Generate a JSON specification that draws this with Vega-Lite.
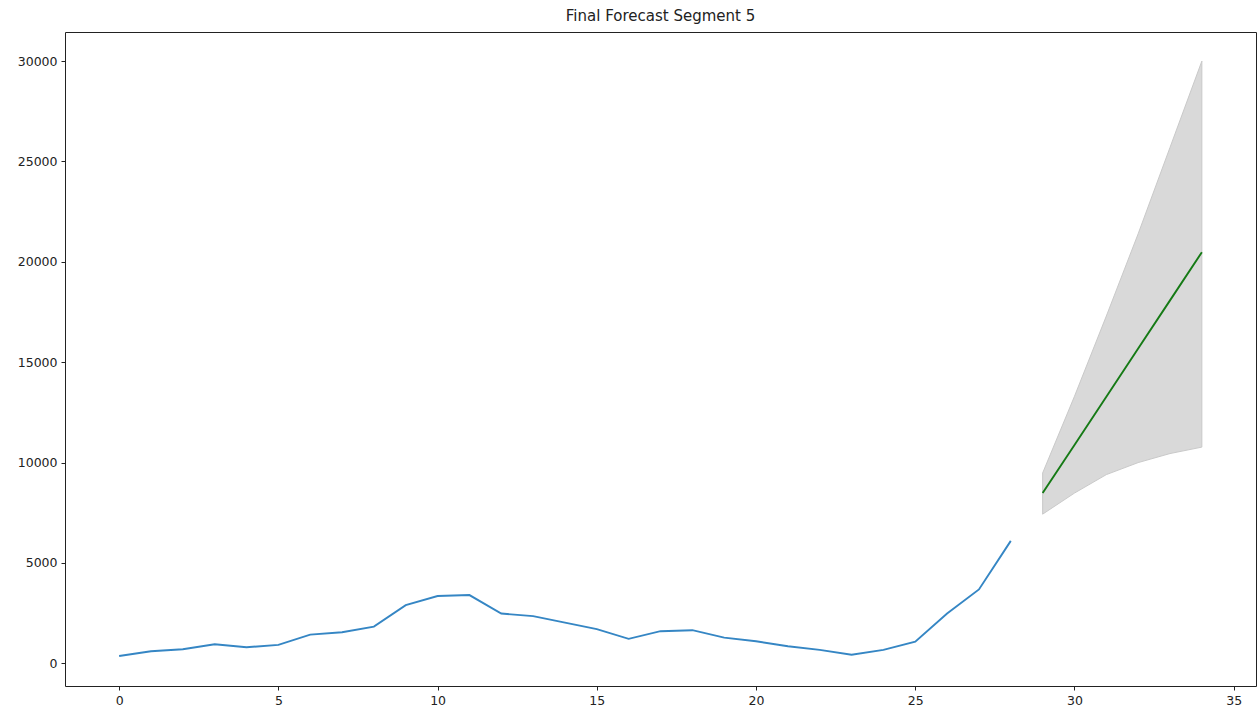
{
  "$schema": "https://vega.github.io/schema/vega-lite/v6.json",
  "width": 1191,
  "height": 654,
  "autosize": {"type": "none"},
  "padding": {"left": 65, "top": 32, "right": 1, "bottom": 25},
  "background": "white",
  "title": {
    "text": "Final Forecast Segment 5",
    "font": "DejaVu Sans",
    "fontSize": 15,
    "fontWeight": "normal",
    "color": "#222222",
    "anchor": "middle",
    "offset": 8
  },
  "config": {
    "view": {"stroke": "#222222", "strokeWidth": 1},
    "axis": {
      "grid": false,
      "domain": false,
      "title": null,
      "labelFont": "DejaVu Sans",
      "labelFontSize": 12.5,
      "labelColor": "#222222",
      "tickColor": "#222222",
      "tickSize": 4,
      "tickWidth": 1,
      "labelPadding": 4,
      "labelFlush": false,
      "labelOverlap": false
    }
  },
  "datasets": {
    "history": [
      {"t": 0, "value": 365},
      {"t": 1, "value": 600},
      {"t": 2, "value": 700},
      {"t": 3, "value": 950},
      {"t": 4, "value": 800},
      {"t": 5, "value": 920},
      {"t": 6, "value": 1430},
      {"t": 7, "value": 1550},
      {"t": 8, "value": 1830},
      {"t": 9, "value": 2900},
      {"t": 10, "value": 3350},
      {"t": 11, "value": 3400},
      {"t": 12, "value": 2480},
      {"t": 13, "value": 2350},
      {"t": 14, "value": 2030},
      {"t": 15, "value": 1700},
      {"t": 16, "value": 1220},
      {"t": 17, "value": 1600},
      {"t": 18, "value": 1650},
      {"t": 19, "value": 1280},
      {"t": 20, "value": 1100},
      {"t": 21, "value": 850},
      {"t": 22, "value": 670},
      {"t": 23, "value": 430},
      {"t": 24, "value": 670},
      {"t": 25, "value": 1080},
      {"t": 26, "value": 2480},
      {"t": 27, "value": 3680},
      {"t": 28, "value": 6100}
    ],
    "forecast": [
      {"t": 29, "mean": 8480, "lower": 7430, "upper": 9480},
      {"t": 30, "mean": 10880, "lower": 8480, "upper": 13300},
      {"t": 31, "mean": 13280, "lower": 9400, "upper": 17300},
      {"t": 32, "mean": 15680, "lower": 10000, "upper": 21400},
      {"t": 33, "mean": 18080, "lower": 10450, "upper": 25700},
      {"t": 34, "mean": 20480, "lower": 10770, "upper": 30000}
    ]
  },
  "layer": [
    {
      "data": {"name": "forecast"},
      "mark": {"type": "area", "color": "#d9d9d9", "stroke": "#c9c9c9", "strokeWidth": 1},
      "encoding": {
        "x": {"field": "t", "type": "quantitative", "scale": {"domain": [-1.7, 35.7], "nice": false, "zero": false},
              "axis": {"values": [0, 5, 10, 15, 20, 25, 30, 35], "format": "d"}},
        "y": {"field": "upper", "type": "quantitative", "scale": {"domain": [-1130, 31450], "nice": false, "zero": false},
              "axis": {"values": [0, 5000, 10000, 15000, 20000, 25000, 30000], "format": "d"}},
        "y2": {"field": "lower"}
      }
    },
    {
      "data": {"name": "history"},
      "mark": {"type": "line", "color": "#3586c4", "strokeWidth": 1.9},
      "encoding": {
        "x": {"field": "t", "type": "quantitative"},
        "y": {"field": "value", "type": "quantitative"}
      }
    },
    {
      "data": {"name": "forecast"},
      "mark": {"type": "line", "color": "#157a15", "strokeWidth": 1.9},
      "encoding": {
        "x": {"field": "t", "type": "quantitative"},
        "y": {"field": "mean", "type": "quantitative"}
      }
    }
  ]
}
